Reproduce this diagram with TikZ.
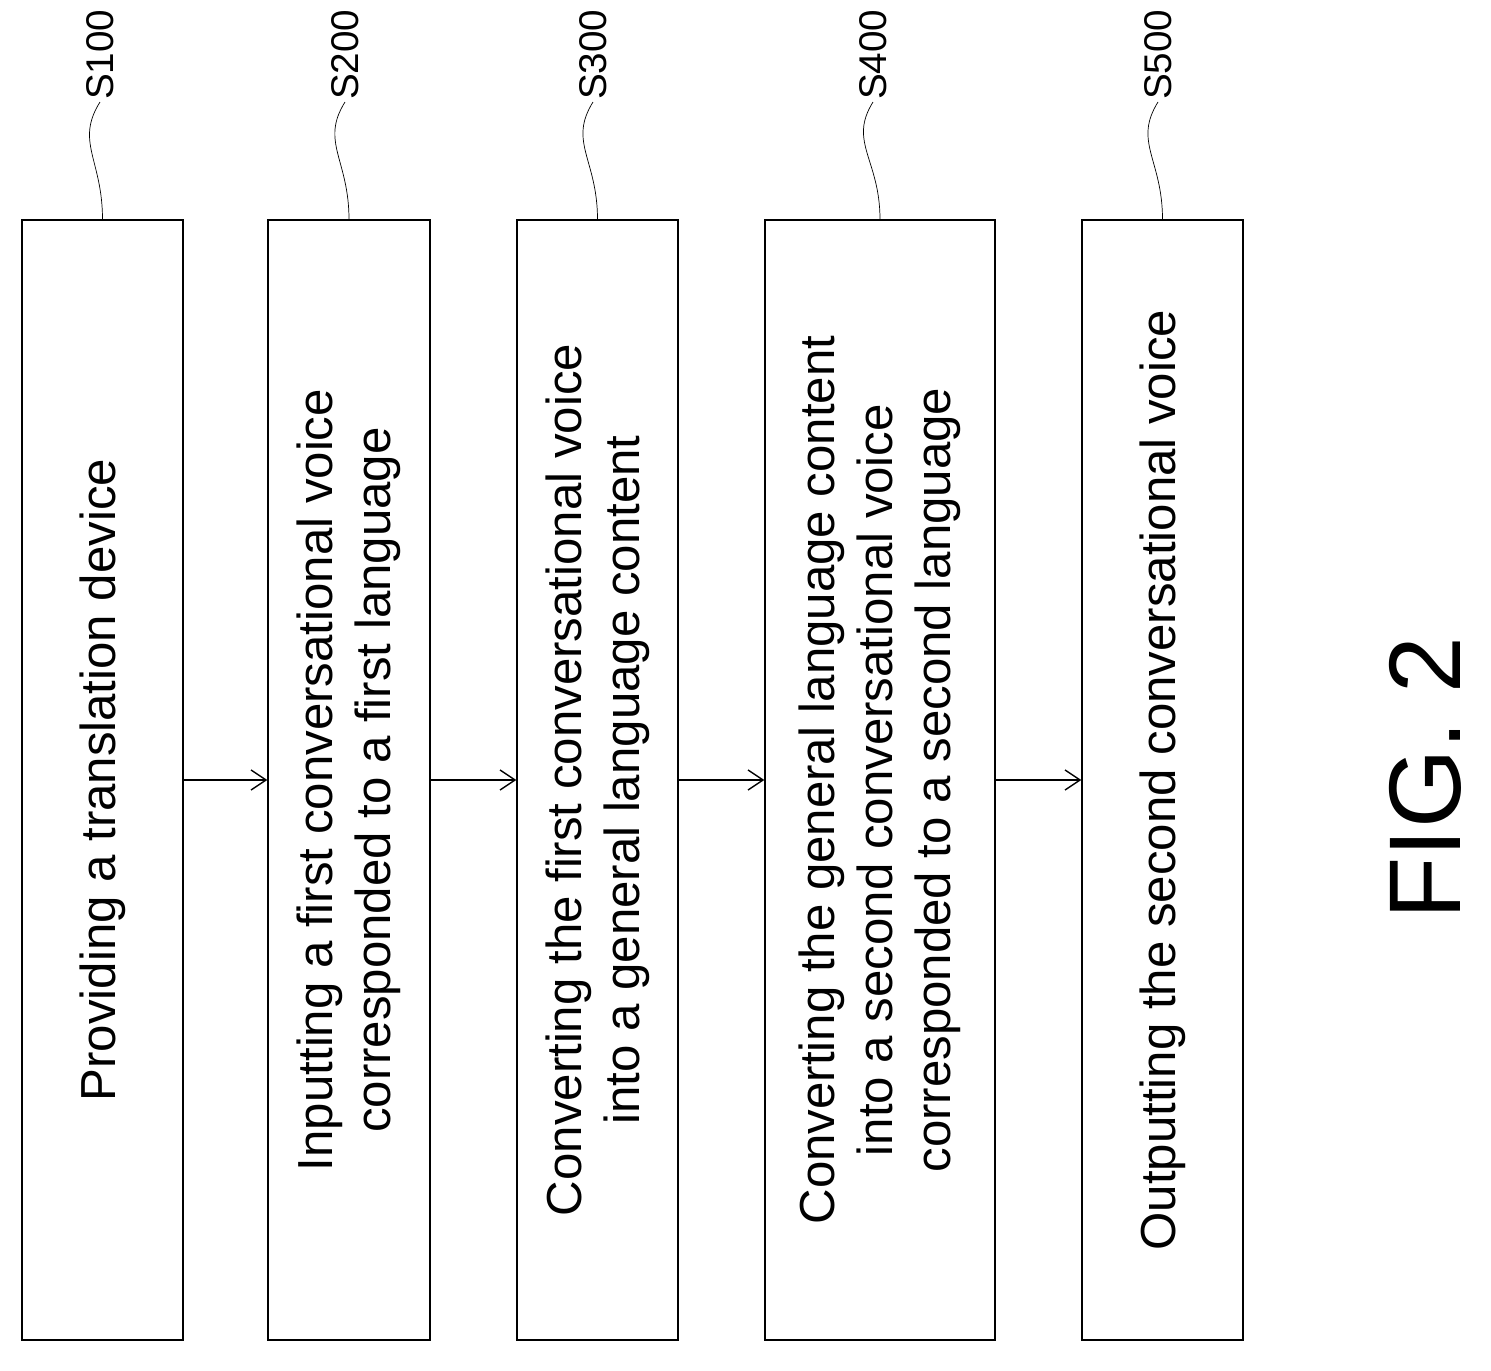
\documentclass[tikz,border=0pt]{standalone}
\usepackage{fontspec}
\setmainfont{Liberation Sans}
\usetikzlibrary{arrows.meta}
\tikzset{
  stepbox/.style={draw, thick, rotate=90, minimum width=22.4cm, align=center, inner sep=0pt,
    font=\fontsize{28}{33}\selectfont},
  steplabel/.style={rotate=90, font=\fontsize{22}{24}\selectfont, inner sep=1pt},
  flow/.style={thick, -{Straight Barb[length=3mm,width=4mm]}},
  lead/.style={thin}
}
\begin{document}
\begin{tikzpicture}[x=0.02cm, y=-0.02cm]
  \useasboundingbox (0,0) rectangle (1491,1370);
  % Steps
  \node[stepbox, minimum height=3.22cm] (b1) at (102.5,780) {Providing a translation device};
  \node[stepbox, minimum height=3.24cm] (b2) at (349,780) {Inputting a first conversational voice\\corresponded to a first language};
  \node[stepbox, minimum height=3.22cm] (b3) at (597.5,780) {Converting the first conversational voice\\into a general language content};
  \node[stepbox, minimum height=4.60cm] (b4) at (880,780) {Converting the general language content\\into a second conversational voice\\corresponded to a second language};
  \node[stepbox, minimum height=3.22cm] (b5) at (1162.5,780) {Outputting the second conversational voice};
  % Labels
  \node[steplabel, anchor=west] (s1) at (100,102) {S100};
  \node[steplabel, anchor=west] (s2) at (345,102) {S200};
  \node[steplabel, anchor=west] (s3) at (593,102) {S300};
  \node[steplabel, anchor=west] (s4) at (873,102) {S400};
  \node[steplabel, anchor=west] (s5) at (1158,102) {S500};
  \foreach \i in {1,...,5}
    \draw[lead] (s\i.west) .. controls +(-25,40) and +(0,-60) .. (b\i.east);
  % Arrows
  \draw[flow] (b1.south) -- (b2.north);
  \draw[flow] (b2.south) -- (b3.north);
  \draw[flow] (b3.south) -- (b4.north);
  \draw[flow] (b4.south) -- (b5.north);
  % Caption
  \node[rotate=90, font=\fontsize{58}{60}\selectfont] (fig) at (1425,778) {FIG. 2};
\end{tikzpicture}
\end{document}
